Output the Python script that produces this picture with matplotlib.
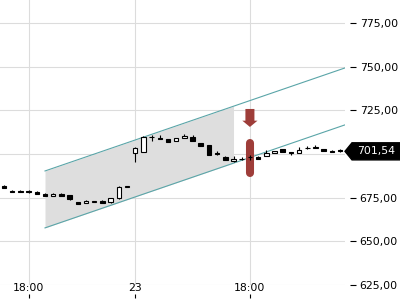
import numpy as np
import matplotlib
matplotlib.use("Agg")
import matplotlib.pyplot as plt
from matplotlib.patches import Polygon, FancyArrow
from matplotlib.transforms import blended_transform_factory

# candles (open, high, low, close), one per bar
opens = [681.8, 678.9, 678.9, 678.9, 678.3, 677.2, 676.0, 677.2, 676.6, 672.6,
         672.0, 672.6, 673.2, 672.6, 674.9, 681.2, 700.6, 701.2, 709.6, 709.2,
         708.6, 707.5, 709.2, 709.8, 706.4, 705.2, 700.6, 698.4, 695.8, 697.0,
         698.2, 698.4, 698.9, 700.6, 702.9, 700.8, 700.6, 703.3, 703.7, 702.9,
         702.0, 702.4]
highs = [682.4, 679.2, 679.3, 679.2, 679.0, 677.4, 677.4, 677.4, 676.8, 672.8,
         673.8, 673.3, 673.4, 675.0, 681.5, 681.8, 703.8, 710.2, 710.9, 710.9,
         708.8, 709.4, 711.5, 710.9, 706.6, 705.4, 701.8, 698.6, 698.9, 698.4,
         699.5, 698.6, 702.4, 702.0, 703.1, 701.0, 704.0, 704.6, 704.9, 703.1,
         702.2, 702.6]
lows = [680.6, 678.0, 678.1, 677.6, 677.0, 675.8, 675.8, 675.8, 673.6, 671.3,
        671.8, 672.3, 671.8, 672.0, 674.5, 681.0, 695.5, 701.0, 707.5, 708.4,
        706.7, 707.3, 709.0, 707.3, 704.4, 699.3, 699.6, 696.4, 695.6, 696.8,
        696.8, 697.0, 698.7, 700.4, 701.0, 699.5, 700.4, 703.1, 703.5, 701.6,
        701.0, 701.3]
closes = [680.6, 678.3, 678.3, 678.3, 677.2, 676.0, 677.2, 676.0, 674.3, 671.5,
          673.2, 672.7, 672.0, 674.9, 681.2, 681.5, 703.5, 709.8, 709.9, 708.6,
          706.9, 709.2, 710.4, 707.5, 704.6, 699.5, 699.8, 696.6, 697.2, 697.3,
          698.5, 697.2, 700.6, 701.8, 701.2, 700.6, 702.4, 703.5, 703.9, 701.8,
          701.2, 701.54]

tick_idx = [3, 16, 30]
tick_labels = ["18:00", "23", "18:00"]
y_ticks = [625, 650, 675, 700, 725, 750, 775]

# trend channel
chan_x = [5, 41.6]
chan_upper = [690.3, 749.3]
chan_lower = [657.7, 716.7]
chan_fill_end = 28

signal_idx = 30
last_price = closes[-1]

red = "#9e3d39"
teal = "#5aa5a8"
grid_c = "#dcdcdc"

fig = plt.figure(figsize=(4, 3), dpi=100)
ax = fig.add_axes([0, 15 / 300, 345 / 400, 285 / 300])
ax.set_xlim(-0.49, 41.6)
ax.set_ylim(625, 788.2)

for s in ax.spines.values():
    s.set_visible(False)
ax.spines["bottom"].set_position(("outward", 6.5))
ax.spines["right"].set_position(("outward", 3.6))

# the 700 label sits under the last-price tag
ax.set_yticks(y_ticks)
ax.set_yticklabels(["" if v == 700 else f"{v:.2f}".replace(".", ",") for v in y_ticks])
ax.yaxis.tick_right()
ax.tick_params(axis="y", direction="out", length=4, width=0.8, pad=3, labelsize=7.8)
ax.set_xticks(tick_idx)
ax.set_xticklabels([])
ax.tick_params(axis="x", direction="out", length=3, width=0.8)
ax.grid(True, color=grid_c, linewidth=0.8, zorder=0)
ax.set_axisbelow(True)

for i, lab in zip(tick_idx, tick_labels):
    ax.text(i, -0.01, lab, transform=blended_transform_factory(ax.transData, ax.transAxes),
            ha="center", va="center", fontsize=7.8, clip_on=False)

# channel
fx = np.array([chan_x[0], chan_fill_end])
ax.fill_between(fx, np.interp(fx, chan_x, chan_lower), np.interp(fx, chan_x, chan_upper),
                color="#dedede", linewidth=0, zorder=1)
ax.plot(chan_x, chan_upper, color=teal, lw=0.8, zorder=2)
ax.plot(chan_x, chan_lower, color=teal, lw=0.8, zorder=2)

# signal marker
ax.plot([signal_idx, signal_idx], [689.2, 706.4], color=red, lw=5.8,
        solid_capstyle="round", zorder=2)
ax.add_patch(FancyArrow(signal_idx, 725.8, 0, -10.3, width=1.1, head_width=1.85,
                        head_length=3.6, length_includes_head=True, color=red,
                        linewidth=0, zorder=2))

# candles
x = np.arange(len(opens))
o = np.array(opens); c = np.array(closes)
ax.vlines(x, lows, highs, color="black", lw=0.8, zorder=3)
up = c >= o
bottom = np.minimum(o, c)
height = np.maximum(np.abs(c - o), 0.35)
ax.bar(x[up], height[up], 0.55, bottom=bottom[up], color="white",
       edgecolor="black", linewidth=0.8, zorder=4)
ax.bar(x[~up], height[~up], 0.55, bottom=bottom[~up], color="black",
       edgecolor="black", linewidth=0.8, zorder=4)

# last price label
tr = blended_transform_factory(ax.transAxes, ax.transData)
hh = 4.9
ax.add_patch(Polygon([(1.0, last_price), (1.0203, last_price + hh), (1.17, last_price + hh),
                      (1.17, last_price - hh), (1.0203, last_price - hh)],
                     closed=True, transform=tr, color="black", clip_on=False, zorder=10))
ax.text(1.09, last_price, f"{last_price:.2f}".replace(".", ","), transform=tr,
        color="white", ha="center", va="center", fontsize=7.8, zorder=11, clip_on=False)

fig.savefig("out.png", dpi=100)
